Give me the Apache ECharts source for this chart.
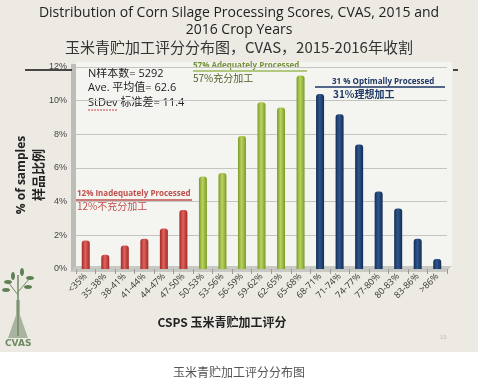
<!DOCTYPE html>
<html><head><meta charset="utf-8">
<script src="https://cdn.jsdelivr.net/npm/echarts@6/dist/echarts.min.js"></script>
<style>html,body{margin:0;padding:0;background:#fff;}#c{width:478px;height:390px;}</style>
</head><body><div id="c"></div>
<script>
var categories = ['<35%','35-38%','38-41%','41-44%','44-47%','47-50%','50-53%','53-56%','56-59%','59-62%','62-65%','65-68%','68-71%','71-74%','74-77%','77-80%','80-83%','83-86%','>86%'];
var inadequate = [1.7,0.85,1.4,1.8,2.4,3.5,null,null,null,null,null,null,null,null,null,null,null,null,null];
var adequate = [null,null,null,null,null,null,5.5,5.7,7.9,9.9,9.6,11.5,null,null,null,null,null,null,null];
var optimal = [null,null,null,null,null,null,null,null,null,null,null,null,10.4,9.2,7.4,4.6,3.6,1.8,0.6];
var yTicks = [0,2,4,6,8,10,12];

function cyl(dark, light){
  return new echarts.graphic.LinearGradient(0,0,1,0,[
    {offset:0,color:dark},{offset:0.45,color:light},{offset:1,color:dark}]);
}
var chart = echarts.init(document.getElementById('c'));
var option = {
  animation:false,
  backgroundColor:'#ffffff',
  graphic:[
    {type:'rect',z:-10,shape:{x:0,y:0,width:478,height:352},style:{fill:'#EDEAE4'}},
    {type:'rect',z:-9,shape:{x:76,y:62,width:376,height:207},style:{fill:'#F4F4F1'}},
    {type:'rect',z:-8,shape:{x:71,y:64,width:5,height:208},style:{fill:'#BDBDB8'}},
    {type:'polygon',z:-8,shape:{points:[[71,272],[446,272],[452,266],[76,266]]},style:{fill:'#C9C9C4'}},
    {type:'line',z:5,shape:{x1:25,y1:70,x2:72,y2:70},style:{stroke:'#111',lineWidth:1.5}},
    {type:'line',z:5,shape:{x1:453,y1:70,x2:458,y2:70},style:{stroke:'#111',lineWidth:1.5}},
    {type:'text',left:'center',top:6,style:{text:'Distribution of Corn Silage Processing Scores, CVAS, 2015 and',font:'14px "Open Sans", sans-serif',fill:'#222'}},
    {type:'text',left:'center',top:23,style:{text:'2016 Crop Years',font:'14px "Open Sans", sans-serif',fill:'#222'}},
    {type:'text',left:'center',top:40,style:{text:'玉米青贮加工评分分布图，CVAS，2015-2016年收割',font:'15px "Noto Sans CJK SC", sans-serif',fill:'#333'}},
    {type:'text',x:22,y:175,rotation:Math.PI/2,style:{text:'% of samples',font:'bold 12px "Open Sans", sans-serif',fill:'#222',align:'center',verticalAlign:'middle'}},
    {type:'text',x:38,y:175,rotation:Math.PI/2,style:{text:'样品比例',font:'bold 13px "Noto Sans CJK SC", sans-serif',fill:'#222',align:'center',verticalAlign:'middle'}},
    {type:'text',x:88,y:68,style:{text:'N样本数= 5292',font:'11px "Open Sans", "Noto Sans CJK SC", sans-serif',fill:'#222'}},
    {type:'text',x:88,y:82,style:{text:'Ave. 平均值= 62.6',font:'11px "Open Sans", "Noto Sans CJK SC", sans-serif',fill:'#222'}},
    {type:'text',x:88,y:97,style:{text:'StDev 标准差= 11.4',font:'11px "Open Sans", "Noto Sans CJK SC", sans-serif',fill:'#222'}},
    {type:'line',shape:{x1:88,y1:110,x2:118,y2:110},style:{stroke:'#D04040',lineWidth:1,lineDash:[2,1]}},
    {type:'text',x:77,y:190,style:{text:'12% Inadequately Processed',font:'bold 8px "Open Sans", sans-serif',fill:'#C0504D'}},
    {type:'line',shape:{x1:76,y1:200,x2:192,y2:200},style:{stroke:'#C0504D',lineWidth:1.5}},
    {type:'text',x:77,y:201,style:{text:'12%不充分加工',font:'10px "Noto Sans CJK SC", sans-serif',fill:'#C0504D'}},
    {type:'text',x:193,y:62,style:{text:'57% Adequately Processed',font:'bold 8px "Open Sans", sans-serif',fill:'#76923C'}},
    {type:'line',shape:{x1:193,y1:71,x2:307,y2:71},style:{stroke:'#9BBB59',lineWidth:1.5}},
    {type:'text',x:193,y:73,style:{text:'57%充分加工',font:'10px "Noto Sans CJK SC", sans-serif',fill:'#4F6228'}},
    {type:'text',x:332,y:78,style:{text:'31 % Optimally Processed',font:'bold 8px "Open Sans", sans-serif',fill:'#1F3864'}},
    {type:'line',shape:{x1:315,y1:87,x2:445,y2:87},style:{stroke:'#1F3864',lineWidth:1.5}},
    {type:'text',x:333,y:89,style:{text:'31%理想加工',font:'bold 10px "Noto Sans CJK SC", sans-serif',fill:'#1F3864'}},
    {type:'text',x:222,y:322,style:{text:'CSPS 玉米青贮加工评分',font:'bold 12px "Noto Sans CJK SC", sans-serif',fill:'#222',align:'center',verticalAlign:'middle'}},
    {type:'text',x:440,y:334,style:{text:'19',font:'6px sans-serif',fill:'#bbb'}},
    {type:'text',left:'center',top:366,style:{text:'玉米青贮加工评分分布图',font:'12px "Noto Sans CJK SC", sans-serif',fill:'#555'}},
    {type:'polygon',shape:{points:[[16,300],[20,300],[20,315],[28,338],[8,338],[16,315]]},style:{fill:'#A9B3A0'}},
    {type:'line',shape:{x1:18,y1:336,x2:18,y2:275},style:{stroke:'#6E8A62',lineWidth:1.5}},
    {type:'line',shape:{x1:18,y1:295,x2:8,y2:282},style:{stroke:'#6E8A62',lineWidth:1}},
    {type:'line',shape:{x1:18,y1:292,x2:30,y2:278},style:{stroke:'#6E8A62',lineWidth:1}},
    {type:'ellipse',shape:{cx:8,cy:282,rx:4,ry:2},style:{fill:'#5E7F52'}},
    {type:'ellipse',shape:{cx:13,cy:276,rx:2,ry:4},style:{fill:'#5E7F52'}},
    {type:'ellipse',shape:{cx:22,cy:272,rx:2,ry:4},style:{fill:'#5E7F52'}},
    {type:'ellipse',shape:{cx:30,cy:278,rx:4,ry:2},style:{fill:'#5E7F52'}},
    {type:'ellipse',shape:{cx:6,cy:290,rx:4,ry:2},style:{fill:'#5E7F52'}},
    {type:'ellipse',shape:{cx:28,cy:287,rx:4,ry:2},style:{fill:'#5E7F52'}},
    {type:'text',x:5,y:339,style:{text:'CVAS',font:'bold 9px "DejaVu Sans", sans-serif',fill:'#6E8A62'}}
  ],
  grid:{left:76,right:31,top:67,bottom:121,containLabel:false},
  xAxis:{type:'category',data:categories,
    axisLine:{show:false},
    axisTick:{show:true,alignWithLabel:false,lineStyle:{color:'#999'}},
    axisLabel:{rotate:45,interval:0,fontSize:9,color:'#333',margin:6,fontFamily:'"Open Sans", sans-serif'}
  },
  yAxis:{type:'value',min:0,max:12,interval:2,
    axisLabel:{formatter:'{value}%',fontSize:9,color:'#444',margin:9},
    axisLine:{show:false},axisTick:{show:false},
    splitLine:{lineStyle:{color:'#C4C4C0',width:1}}
  },
  series:[
    {type:'bar',data:inadequate,stack:'a',barWidth:8,itemStyle:{color:cyl('#A22A27','#E0625C'),borderRadius:[3,3,0,0]}},
    {type:'bar',data:adequate,stack:'a',barWidth:8,itemStyle:{color:cyl('#7D9A2A','#B9D45E'),borderRadius:[3,3,0,0]}},
    {type:'bar',data:optimal,stack:'a',barWidth:8,itemStyle:{color:cyl('#142C52','#2E5790'),borderRadius:[3,3,0,0]}}
  ]
};
chart.setOption(option);
</script></body></html>
